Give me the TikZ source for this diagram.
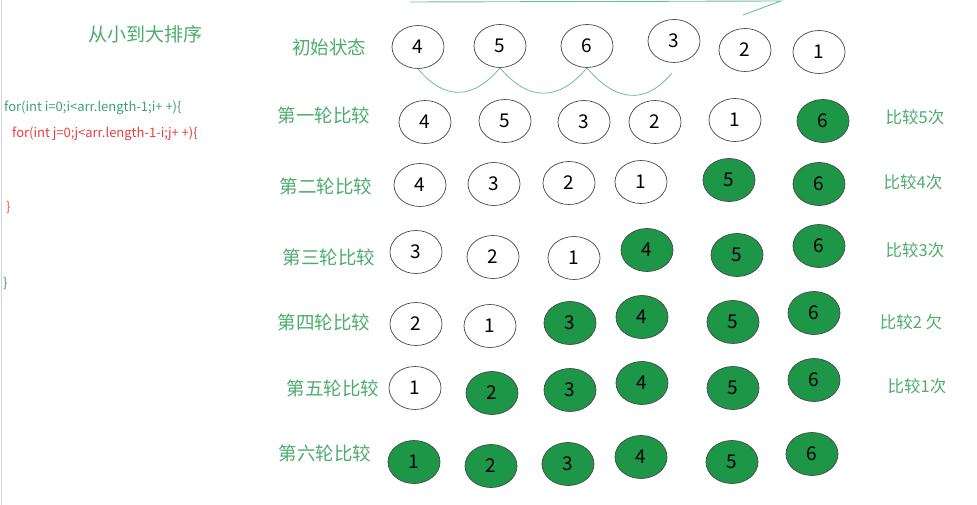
\documentclass[tikz,border=0pt]{standalone}
\usepackage{fontspec}
\setmainfont{Noto Sans CJK SC}
\usetikzlibrary{shapes.geometric,positioning}
\definecolor{lblgreen}{RGB}{76,172,108}
\definecolor{ballgreen}{RGB}{30,150,72}
\definecolor{linkgreen}{RGB}{110,190,160}
\definecolor{codeteal}{RGB}{60,160,120}
\definecolor{codered}{RGB}{232,62,62}
\definecolor{codeorange}{RGB}{232,90,50}
\definecolor{edgeblue}{RGB}{205,212,232}

\begin{document}
\begin{tikzpicture}[x=1pt, y=-1pt,
  wball/.style={ellipse, draw=black!72, line width=0.7pt, minimum width=52pt, minimum height=43pt, inner sep=0pt, font=\fontsize{19}{19}\selectfont},
  gball/.style={wball, fill=ballgreen},
  rowlbl/.style={text=lblgreen, font=\fontsize{18.5}{19}\selectfont},
  cmplbl/.style={text=lblgreen, font=\fontsize{16.5}{17}\selectfont},
  code/.style={anchor=west, inner sep=0pt, font=\fontsize{13}{13}\selectfont},
  hop/.style={draw=linkgreen, line width=0.8pt, out=-50, in=-130, looseness=1.3}]
\useasboundingbox (0,0) rectangle (977,505);
\draw[edgeblue, line width=1pt] (1,0) -- (1,505);
% title and code
\node[text=lblgreen, font=\fontsize{19}{19}\selectfont] (title) at (145,34) {从小到大排序};
\node[code, text=codeteal] (outer) at (4,108) {for(int i=0;i<arr.length-1;i+ +)\{};
\node[code, text=codered] (inner) at (12,134) {for(int j=0;j<arr.length-1-i;j+ +)\{};
\node[code, text=codeorange] (innerend) at (6,207) {\}};
\node[code, text=codeteal] (outerend) at (3,283) {\}};
% row labels
\foreach \t/\x/\y [count=\k from 0] in {初始状态/329/47, 第一轮比较/324/115, 第二轮比较/326/186, 第三轮比较/329/257, 第四轮比较/324/322, 第五轮比较/333/388, 第六轮比较/325/453} \node[rowlbl] (lbl\k) at (\x,\y) {\t};
% balls
\foreach \x/\y/\n/\s [count=\k] in {418/47/4/wball, 500/46/5/wball, 587/46/6/wball, 674/41/3/wball, 745/50/2/wball, 819/52/1/wball} \node[\s] (r0c\k) at (\x,\y) {\n};
\foreach \x/\y/\n/\s [count=\k] in {425/122/4/wball, 505/121/5/wball, 584/122/3/wball, 655/122/2/wball, 735/120/1/wball, 823/121/6/gball} \node[\s] (r1c\k) at (\x,\y) {\n};
\foreach \x/\y/\n/\s [count=\k] in {420/185/4/wball, 494/184/3/wball, 569/183/2/wball, 641/182/1/wball, 729/180/5/gball, 819/184/6/gball} \node[\s] (r2c\k) at (\x,\y) {\n};
\foreach \x/\y/\n/\s [count=\k] in {416/252/3/wball, 493/257/2/wball, 574/258/1/wball, 647/250/4/gball, 737/255/5/gball, 819/246/6/gball} \node[\s] (r3c\k) at (\x,\y) {\n};
\foreach \x/\y/\n/\s [count=\k] in {416/324/2/wball, 490/326/1/wball, 570/323/3/gball, 642/317/4/gball, 733/322/5/gball, 814/313/6/gball} \node[\s] (r4c\k) at (\x,\y) {\n};
\foreach \x/\y/\n/\s [count=\k] in {415/388/1/wball, 492/393/2/gball, 570/390/3/gball, 642/383/4/gball, 733/388/5/gball, 814/380/6/gball} \node[\s] (r5c\k) at (\x,\y) {\n};
\foreach \x/\y/\n/\s [count=\k] in {414/462/1/gball, 491/466/2/gball, 568/464/3/gball, 641/457/4/gball, 732/462/5/gball, 812/454/6/gball} \node[\s] (r6c\k) at (\x,\y) {\n};
% compare counts
\foreach \t/\x/\y [count=\k] in {比较5次/915/117, 比较4次/913/182, 比较3次/915/250, 比较2 欠/911/322, 比较1次/917/386} \node[cmplbl] (cnt\k) at (\x,\y) {\t};
% swap arcs and top strokes
\coordinate (e3) at (672,73);
\draw[hop] (r0c1.south) to (r0c2.south);
\draw[hop] (r0c2.south) to (r0c3.south);
\draw[hop] (r0c3.south) to (e3);
\coordinate (t1) at (410,2); \coordinate (t2) at (781,1); \coordinate (t3) at (743,15);
\draw[linkgreen, line width=0.9pt] (t1) -- (t2) -- (t3);
\end{tikzpicture}
\end{document}
